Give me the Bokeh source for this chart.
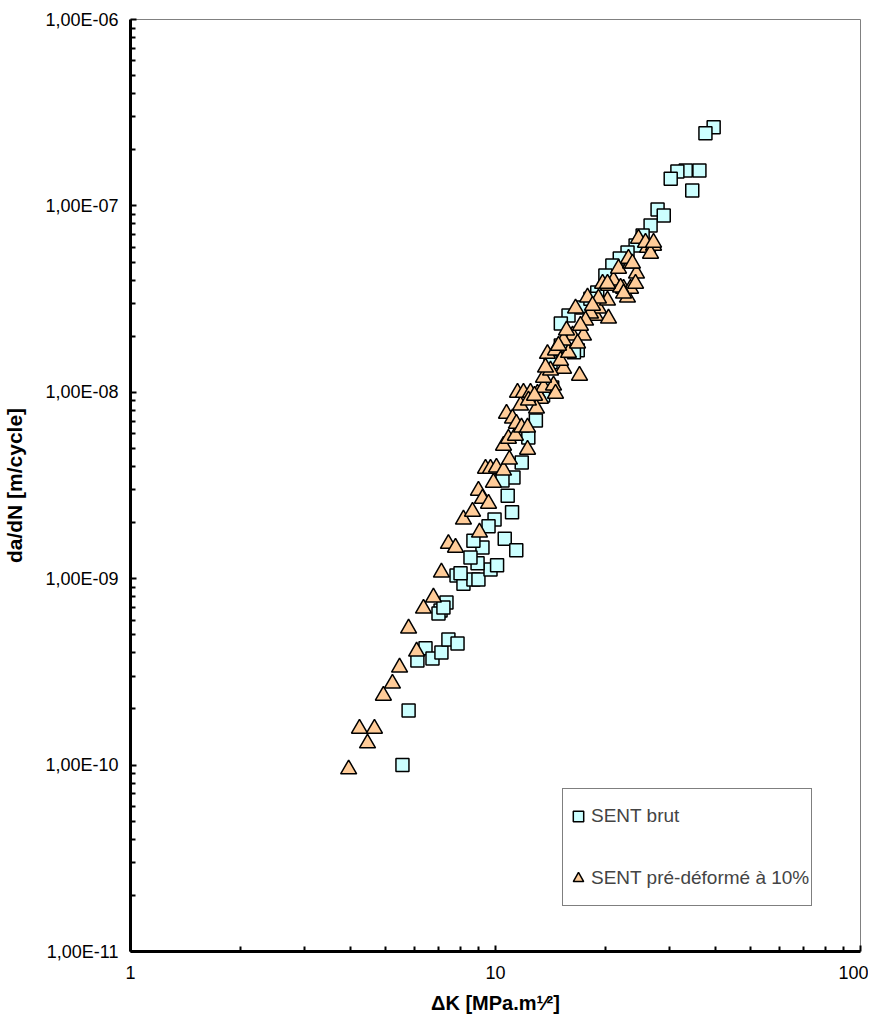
from bokeh.plotting import figure
from bokeh.models import Range1d, FixedTicker, Legend, LegendItem, ColumnDataSource
from bokeh.embed import file_html
from bokeh.resources import INLINE

# ---------------- data ----------------
brut_dK = [5.56, 5.78, 6.11, 6.43, 6.72, 7.11, 7.43, 7.87, 7.34, 7.07,
           6.98, 7.20, 7.82, 8.17, 8.70, 8.98, 9.69, 10.1, 8.93, 12.3,
           11.8, 11.2, 10.8, 11.1, 9.94, 9.57, 10.6, 11.4, 9.21, 8.70,
           8.54, 8.02, 10.45, 39.6, 37.6, 36.2, 33.2, 31.5, 30.2, 34.6,
           27.8, 28.9, 26.6, 25.3, 24.2, 23.0, 21.9, 20.9, 20.0, 19.0,
           17.3, 15.85, 15.1, 16.8, 18.2, 14.3, 13.5, 12.9, 15.1, 16.4,
           14.15]
brut_dadN = [1.0e-10, 1.96e-10, 3.64e-10, 4.23e-10, 3.73e-10, 4.02e-10, 4.72e-10, 4.49e-10, 7.45e-10, 6.75e-10,
             6.50e-10, 7.0e-10, 1.04e-9, 9.4e-10, 9.9e-10, 9.9e-10, 1.12e-9, 1.18e-9, 1.21e-9, 5.73e-9,
             4.2e-9, 3.49e-9, 2.79e-9, 2.27e-9, 2.08e-9, 1.91e-9, 1.64e-9, 1.42e-9, 1.47e-9, 1.60e-9,
             1.30e-9, 1.07e-9, 3.36e-9, 2.64e-7, 2.45e-7, 1.55e-7, 1.55e-7, 1.53e-7, 1.40e-7, 1.21e-7,
             9.57e-8, 8.88e-8, 7.85e-8, 6.94e-8, 6.14e-8, 5.62e-8, 5.22e-8, 4.79e-8, 4.23e-8, 3.43e-8,
             2.85e-8, 2.58e-8, 2.34e-8, 1.68e-8, 3.18e-8, 1.06e-8, 9.6e-9, 7.06e-9, 1.78e-8, 1.64e-8,
             1.45e-8]

pre_dK = [3.96, 4.24, 4.66, 4.46, 4.93, 5.22, 5.46, 5.78, 6.08, 6.35, 6.76, 7.11,
          7.43, 7.77, 8.17, 8.65, 9.04, 8.98, 9.21, 9.57, 9.39, 9.69, 10.06, 9.87, 10.52,
          10.92, 12.24, 10.52, 10.85, 11.34, 10.72, 11.13, 11.41, 11.78, 12.24, 11.71,
          11.49, 11.93, 12.47, 13.03, 13.28, 13.54, 14.42, 14.60, 12.95,
          16.99, 13.54, 13.88, 14.60, 15.36, 15.07, 15.85, 16.26, 17.42, 16.78, 15.36,
          16.57, 17.87, 18.79, 20.40, 19.15, 18.21, 19.65, 20.40, 20.27, 21.05, 21.73,
          22.99, 22.43, 23.44, 24.34, 24.19, 23.44, 26.09, 27.10, 26.59,
          24.65, 25.76, 27.10, 23.14, 23.73, 22.01, 22.43, 20.27, 19.15,
          14.15, 14.88, 15.65, 17.65, 18.44, 17.09, 13.71, 12.31, 12.79]
pre_dadN = [9.5e-11, 1.57e-10, 1.57e-10, 1.31e-10, 2.36e-10, 2.74e-10, 3.34e-10, 5.41e-10, 4.07e-10, 6.92e-10, 7.93e-10, 1.08e-9,
            1.54e-9, 1.47e-9, 2.08e-9, 2.29e-9, 1.77e-9, 2.97e-9, 2.69e-9, 2.53e-9, 3.90e-9, 3.90e-9, 3.95e-9, 3.28e-9, 3.81e-9,
            4.36e-9, 4.93e-9, 5.18e-9, 5.65e-9, 5.86e-9, 7.69e-9, 7.24e-9, 6.80e-9, 6.48e-9, 6.48e-9, 8.50e-9,
            9.97e-9, 9.97e-9, 9.97e-9, 9.85e-9, 9.26e-9, 1.06e-8, 1.09e-8, 9.85e-9, 8.19e-9,
            1.23e-8, 1.20e-8, 1.61e-8, 1.68e-8, 1.34e-8, 1.48e-8, 1.63e-8, 2.02e-8, 2.02e-8, 1.83e-8, 1.90e-8,
            2.82e-8, 3.23e-8, 2.58e-8, 2.49e-8, 2.82e-8, 2.65e-8, 3.83e-8, 3.74e-8, 3.11e-8, 3.98e-8, 4.61e-8,
            3.23e-8, 3.60e-8, 3.60e-8, 4.34e-8, 3.83e-8, 4.91e-8, 5.98e-8, 6.13e-8, 5.55e-8,
            6.68e-8, 6.36e-8, 6.36e-8, 5.22e-8, 4.91e-8, 3.65e-8, 3.39e-8, 3.83e-8, 3.19e-8,
            1.31e-8, 1.78e-8, 2.15e-8, 2.43e-8, 2.92e-8, 2.28e-8, 1.36e-8, 9.04e-9, 9.6e-9]

series_labels = ["SENT brut", "SENT pré-déformé à 10%"]
x_title = "\u0394K [MPa.m\u00b9\u2044\u00b2]"
y_title = "da/dN [m/cycle]"

x_tick_values = [1, 10, 100]
x_tick_labels = ["1", "10", "100"]
y_tick_values = [1e-11, 1e-10, 1e-9, 1e-8, 1e-7, 1e-6]
y_tick_labels = ["1,00E-11", "1,00E-10", "1,00E-09", "1,00E-08", "1,00E-07", "1,00E-06"]

x_minor = [m * 10 ** e for e in (0, 1) for m in range(2, 10)]
y_minor = [m * 10.0 ** e for e in range(-11, -6) for m in range(2, 10)]

FONT = "Liberation Sans"

p = figure(width=868, height=1024, x_axis_type="log", y_axis_type="log",
           x_range=Range1d(1, 100), y_range=Range1d(1e-11, 1e-6),
           output_backend="svg", toolbar_location=None,
           min_border_left=130, min_border_right=8, min_border_top=19, min_border_bottom=73)
p.grid.visible = False
p.outline_line_color = "#808080"
p.outline_line_width = 1
p.background_fill_color = "white"
p.border_fill_color = "white"

p.xaxis.ticker = FixedTicker(ticks=x_tick_values, minor_ticks=x_minor)
p.yaxis.ticker = FixedTicker(ticks=y_tick_values, minor_ticks=y_minor)
p.xaxis.major_label_overrides = {v: l for v, l in zip(x_tick_values, x_tick_labels)}
p.yaxis.major_label_overrides = {v: l for v, l in zip(y_tick_values, y_tick_labels)}

for ax in (p.xaxis[0], p.yaxis[0]):
    ax.axis_line_width = 3
    ax.axis_line_color = "black"
    ax.major_tick_in = 6
    ax.major_tick_out = 0
    ax.minor_tick_in = 5
    ax.minor_tick_out = 0
    ax.major_tick_line_width = 2
    ax.minor_tick_line_width = 2
    ax.major_label_text_font = FONT
    ax.major_label_text_font_size = "18px"
    ax.major_label_text_color = "black"
    ax.axis_label_text_font = FONT
    ax.axis_label_text_font_style = "bold"
    ax.axis_label_text_color = "black"

p.yaxis.major_label_standoff = 12
p.xaxis.major_label_standoff = 14
p.yaxis.axis_label = y_title
p.yaxis.axis_label_text_font_size = "21px"
p.yaxis.axis_label_standoff = 16
p.xaxis.axis_label = x_title
p.xaxis.axis_label_text_font_size = "20px"
p.xaxis.axis_label_standoff = 10

src_b = ColumnDataSource(dict(x=brut_dK, y=brut_dadN))
src_p = ColumnDataSource(dict(x=pre_dK, y=pre_dadN))
r_sq = p.scatter("x", "y", source=src_b, marker="square", size=13,
                 fill_color="#CCFFFF", line_color="black", line_width=1.5)
r_tr = p.scatter("x", "y", source=src_p, marker="triangle", size=16,
                 fill_color="#FFCC99", line_color="black", line_width=1.5)

legend = Legend(items=[LegendItem(label=series_labels[0], renderers=[r_sq]),
                       LegendItem(label=series_labels[1], renderers=[r_tr])],
                location=(432, 45), padding=2, spacing=12,
                glyph_width=26, glyph_height=50, label_height=50, label_standoff=0,
                label_text_font=FONT, label_text_font_size="19px",
                border_line_color="black", border_line_width=1,
                background_fill_color="white", background_fill_alpha=1.0)
p.add_layout(legend, "center")

open("out.html", "w").write(file_html(p, INLINE))
